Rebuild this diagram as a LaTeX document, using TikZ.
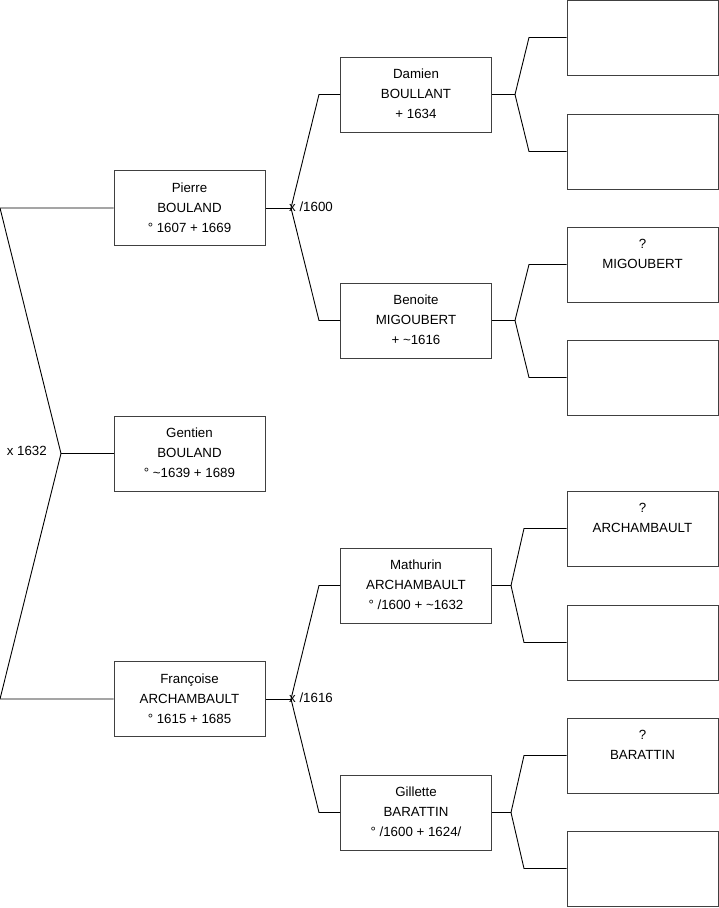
\documentclass[tikz,border=0pt]{standalone}
\usepackage{fontspec}
\setmainfont{Liberation Sans}
\begin{document}
\begin{tikzpicture}[x=1pt,y=-1pt,
  person/.style={draw=black!75, line width=1pt, minimum width=151pt, minimum height=75pt, inner sep=0pt, align=center, font=\fontsize{13.3}{20}\selectfont},
  link/.style={draw=black, line width=0.9pt},
  lbl/.style={font=\fontsize{13.3}{16}\selectfont, inner sep=0pt}]
\useasboundingbox (0,0) rectangle (719,908);
% column 1
\node[person] (pierre) at (189.5,208) {\strut Pierre\\\strut BOULAND\\\strut ° 1607 + 1669};
\node[person] (gentien) at (189.5,453.5) {\strut Gentien\\\strut BOULAND\\\strut ° \textasciitilde1639 + 1689};
\node[person] (francoise) at (189.5,699) {\strut Françoise\\\strut ARCHAMBAULT\\\strut ° 1615 + 1685};
% column 2
\node[person] (damien) at (416,94.5) {\strut Damien\\\strut BOULLANT\\\strut + 1634};
\node[person] (benoite) at (416,320.5) {\strut Benoite\\\strut MIGOUBERT\\\strut + \textasciitilde1616};
\node[person] (mathurin) at (416,585.5) {\strut Mathurin\\\strut ARCHAMBAULT\\\strut ° /1600 + \textasciitilde1632};
\node[person] (gillette) at (416,812.5) {\strut Gillette\\\strut BARATTIN\\\strut ° /1600 + 1624/};
% column 3
\node[person] (g1) at (642.5,37.5) {};
\node[person] (g2) at (642.5,151.5) {};
\node[person] (g3) at (642.5,264.5) {\strut ?\\\strut MIGOUBERT\\\strut};
\node[person] (g4) at (642.5,377.5) {};
\node[person] (g5) at (642.5,528.5) {\strut ?\\\strut ARCHAMBAULT\\\strut};
\node[person] (g6) at (642.5,642.5) {};
\node[person] (g7) at (642.5,755.5) {\strut ?\\\strut BARATTIN\\\strut};
\node[person] (g8) at (642.5,868.5) {};
% left fork
\coordinate (l1) at (0,208);
\coordinate (v0) at (61,453.5);
\coordinate (l2) at (0,699);
\draw[link] (pierre.west) -- (l1) -- (v0) -- (l2) -- (francoise.west);
\draw[link] (v0) -- (gentien.west);
\node[lbl, anchor=east] (m0) at (47,451) {x 1632};
% Pierre fork
\coordinate (v1) at (291,208);
\coordinate (a1) at (319,94.5);
\coordinate (b1) at (319,320.5);
\draw[link] (pierre.east) -- (v1);
\draw[link] (damien.west) -- (a1) -- (v1) -- (b1) -- (benoite.west);
\node[lbl, anchor=west] (m1) at (289,207) {x /1600};
% Françoise fork
\coordinate (v2) at (291,699);
\coordinate (a2) at (319,585.5);
\coordinate (b2) at (319,812.5);
\draw[link] (francoise.east) -- (v2);
\draw[link] (mathurin.west) -- (a2) -- (v2) -- (b2) -- (gillette.west);
\node[lbl, anchor=west] (m2) at (289,698) {x /1616};
% Damien fork
\coordinate (v3) at (515,94.5);
\coordinate (a3) at (529,37.5);
\coordinate (b3) at (529,151.5);
\draw[link] (damien.east) -- (v3);
\draw[link] (g1.west) -- (a3) -- (v3) -- (b3) -- (g2.west);
% Benoite fork
\coordinate (v4) at (515,320.5);
\coordinate (a4) at (529,264.5);
\coordinate (b4) at (529,377.5);
\draw[link] (benoite.east) -- (v4);
\draw[link] (g3.west) -- (a4) -- (v4) -- (b4) -- (g4.west);
% Mathurin fork
\coordinate (v5) at (511,585.5);
\coordinate (a5) at (524,528.5);
\coordinate (b5) at (524,642.5);
\draw[link] (mathurin.east) -- (v5);
\draw[link] (g5.west) -- (a5) -- (v5) -- (b5) -- (g6.west);
% Gillette fork
\coordinate (v6) at (511,812.5);
\coordinate (a6) at (524,755.5);
\coordinate (b6) at (524,868.5);
\draw[link] (gillette.east) -- (v6);
\draw[link] (g7.west) -- (a6) -- (v6) -- (b6) -- (g8.west);
\end{tikzpicture}
\end{document}
